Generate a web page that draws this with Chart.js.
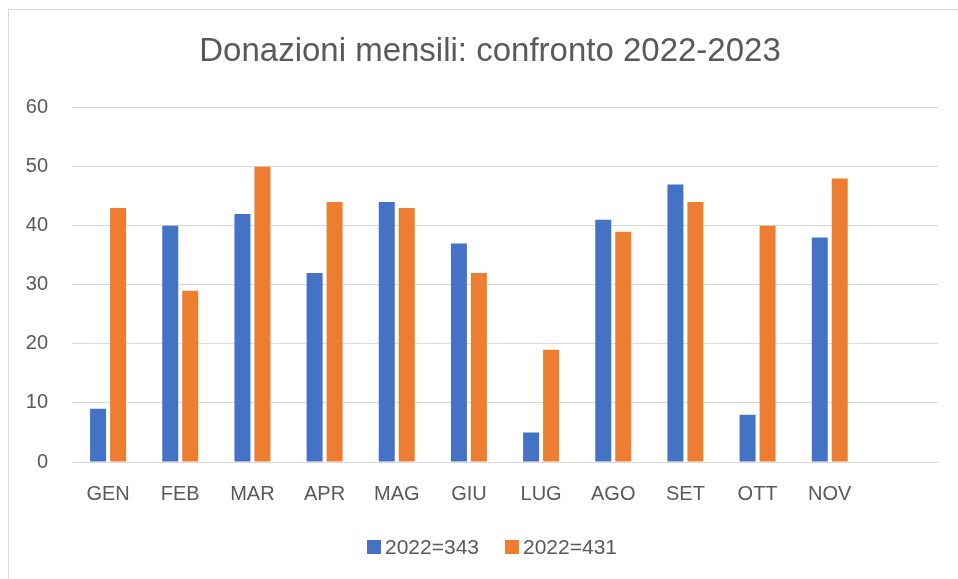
<!DOCTYPE html>
<html>
<head>
<meta charset="utf-8">
<script src="https://cdn.jsdelivr.net/npm/chart.js@4"></script>
<style>
  html, body { margin: 0; padding: 0; background: #ffffff; overflow: hidden; }
  #frame { position: absolute; left: 8px; top: 9px; width: 1000px; height: 600px; border: 1px solid #d9d9d9; box-sizing: border-box; }
  #wrap { position: absolute; left: 0; top: 0; width: 958px; height: 579px; }
</style>
</head>
<body>
<div id="frame"></div>
<div id="wrap"><canvas id="c" width="958" height="579"></canvas></div>
<script>
const categories = ['GEN', 'FEB', 'MAR', 'APR', 'MAG', 'GIU', 'LUG', 'AGO', 'SET', 'OTT', 'NOV', ''];
const series2022a = [9, 40, 42, 32, 44, 37, 5, 41, 47, 8, 38, null];
const series2022b = [43, 29, 50, 44, 43, 32, 19, 39, 44, 40, 48, null];
const seriesNames = ['2022=343', '2022=431'];
const titleText = 'Donazioni mensili: confronto 2022-2023';
const yTicks = [0, 10, 20, 30, 40, 50, 60];

const FONT = "'Liberation Sans', 'DejaVu Sans', sans-serif";
const TXT = '#595959';
const GRID = '#d9d9d9';

// Centre the title on the whole chart frame (as Excel does) rather than on the padded layout box
const titleShift = {
  id: 'titleShift',
  afterLayout(chart, args, opts) {
    const t = chart.titleBlock;
    if (t) { t.left = opts.left; t.width = t.right - t.left; }
  }
};

// Excel-style legend: small square, tight gap, centred under the frame
const excelLegend = {
  id: 'excelLegend',
  afterDraw(chart, args, opts) {
    const ctx = chart.ctx;
    ctx.save();
    ctx.font = opts.fontSize + 'px ' + FONT;
    ctx.textBaseline = 'middle';
    ctx.textAlign = 'left';
    const items = chart.data.datasets.map(ds => ({ text: ds.label, color: ds.backgroundColor, w: ctx.measureText(ds.label).width }));
    const total = items.reduce((s, it) => s + opts.box + opts.gap + it.w, 0) + opts.itemGap * (items.length - 1);
    let x = opts.centerX - total / 2;
    for (const it of items) {
      ctx.fillStyle = it.color;
      ctx.fillRect(x, opts.centerY - opts.box / 2, opts.box, opts.box);
      x += opts.box + opts.gap;
      ctx.fillStyle = TXT;
      ctx.fillText(it.text, x, opts.centerY + 1);
      x += it.w + opts.itemGap;
    }
    ctx.restore();
  }
};

new Chart(document.getElementById('c'), {
  type: 'bar',
  data: {
    labels: categories,
    datasets: [
      { label: seriesNames[0], data: series2022a, backgroundColor: '#4472C4', barPercentage: 0.8, categoryPercentage: 0.554 },
      { label: seriesNames[1], data: series2022b, backgroundColor: '#ED7D31', barPercentage: 0.8, categoryPercentage: 0.554 }
    ]
  },
  plugins: [titleShift, excelLegend],
  options: {
    responsive: false,
    animation: false,
    devicePixelRatio: 1,
    layout: { padding: { left: 0, right: 20, top: 0, bottom: 47 } },
    plugins: {
      title: {
        display: true,
        text: titleText,
        color: TXT,
        font: { family: FONT, size: 33, weight: 'normal' },
        padding: { top: 32, bottom: 36 }
      },
      titleShift: { left: 42 },
      legend: { display: false },
      excelLegend: { fontSize: 21, box: 14, gap: 4, itemGap: 26, centerX: 492, centerY: 547 },
      tooltip: { enabled: false }
    },
    scales: {
      x: {
        grid: { display: false, drawTicks: false },
        border: { display: true, color: GRID, width: 1 },
        ticks: { color: TXT, font: { family: FONT, size: 20 }, padding: 20, maxRotation: 0, autoSkip: false },
        afterFit(scale) { scale.height = 70; }
      },
      y: {
        min: 0, max: 60,
        afterBuildTicks(scale) { scale.ticks = yTicks.map(v => ({ value: v })); },
        grid: { color: GRID, lineWidth: 1, drawTicks: false },
        border: { display: false },
        ticks: { color: TXT, font: { family: FONT, size: 20 }, padding: 24 },
        afterFit(scale) { scale.width = 72; }
      }
    }
  }
});
</script>
</body>
</html>
